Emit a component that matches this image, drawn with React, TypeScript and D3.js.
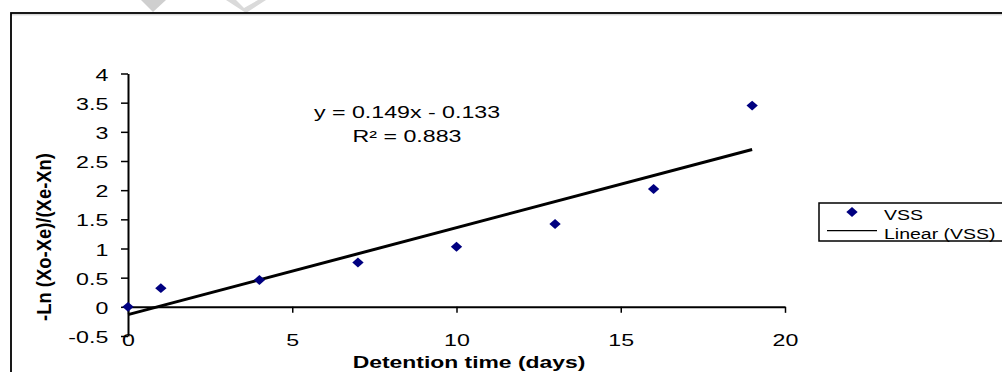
import React, { useEffect, useRef } from 'react';
import * as d3 from 'd3';

// detention time (days) and -Ln(...) values
const days = [0, 1, 4, 7, 10, 13, 16, 19];
const vss = [0, 0.32, 0.46, 0.76, 1.03, 1.42, 2.02, 3.45];

const xTicks = [0, 5, 10, 15, 20];
const yTicks = [-0.5, 0, 0.5, 1, 1.5, 2, 2.5, 3, 3.5, 4];

// trendline as printed on the chart
const slope = 0.149;
const intercept = -0.133;
const eqLines = ['y = 0.149x - 0.133', 'R² = 0.883'];
const legendLabels = ['VSS', 'Linear (VSS)'];

const FONT = '"Liberation Sans", Arial, sans-serif';
const SX = 1.45; // the picture is stretched horizontally

export default function App() {
  const svgRef = useRef<SVGSVGElement>(null);

  useEffect(() => {
    if (!svgRef.current) return;
    const svg = d3.select(svgRef.current);
    svg.selectAll('*').remove();

    const width = 1002;
    const height = 372;

    const x = d3.scaleLinear().domain([0, 20]).range([128, 785]);
    const y = d3.scaleLinear().domain([-0.5, 4]).range([336, 73.5]);

    svg.append('rect').attr('width', width).attr('height', height).attr('fill', '#fff');

    // watermark fragments at the top
    svg
      .append('path')
      .attr('d', 'M141,0 L166,0 L153,12 Z')
      .attr('fill', '#cfcfcf');
    svg
      .append('path')
      .attr('d', 'M226,0 L236,0 L244,8 L258,0 L266,0 L246,13 Z')
      .attr('fill', '#dadada');

    // chart area border (runs off the right and bottom)
    svg
      .append('line')
      .attr('x1', 11)
      .attr('x2', width + 10)
      .attr('y1', 14.8)
      .attr('y2', 14.8)
      .attr('stroke', '#c8c8c8')
      .attr('stroke-width', 1);
    svg
      .append('rect')
      .attr('x', 11)
      .attr('y', 13)
      .attr('width', width + 20)
      .attr('height', height + 20)
      .attr('fill', 'none')
      .attr('stroke', '#000')
      .attr('stroke-width', 1.8);

    // y axis
    const gy = svg
      .append('g')
      .attr('transform', `translate(${x(0)},0)`)
      .call(
        d3
          .axisLeft(y)
          .tickValues(yTicks)
          .tickSize(7)
          .tickSizeOuter(0)
          .tickFormat((d) => String(d))
      );
    gy.select('.domain').attr('stroke', '#000').attr('stroke-width', 2);
    gy.selectAll('.tick line').attr('stroke', '#000').attr('stroke-width', 1.5);
    gy.selectAll('.tick text')
      .attr('x', -19.7 / SX)
      .attr('y', 6.6)
      .attr('dy', 0)
      .attr('transform', `scale(${SX},1)`)
      .attr('fill', '#000')
      .attr('font-size', 16)
      .attr('font-family', FONT);

    // x axis crossing at y = 0, labels low
    const gx = svg
      .append('g')
      .attr('transform', `translate(0,${y(0)})`)
      .call(
        d3
          .axisBottom(x)
          .tickValues(xTicks)
          .tickSize(6)
          .tickSizeOuter(0)
          .tickFormat((d) => String(d))
      );
    gx.select('.domain').attr('stroke', '#000').attr('stroke-width', 2);
    gx.selectAll('.tick line').attr('stroke', '#000').attr('stroke-width', 1.5);
    gx.selectAll('.tick text')
      .attr('y', 38.8)
      .attr('dy', 0)
      .attr('transform', `scale(${SX},1)`)
      .attr('fill', '#000')
      .attr('font-size', 16)
      .attr('font-family', FONT);

    // trendline
    const line = d3
      .line<number>()
      .x((d) => x(d))
      .y((d) => y(slope * d + intercept));
    svg
      .append('path')
      .datum([0, d3.max(days)!])
      .attr('d', line)
      .attr('fill', 'none')
      .attr('stroke', '#000')
      .attr('stroke-width', 3);

    // points
    const diamond = d3.symbol().type(d3.symbolDiamond2).size(62);
    svg
      .selectAll('.pt')
      .data(days)
      .enter()
      .append('path')
      .attr('class', 'pt')
      .attr('d', diamond)
      .attr('transform', (d, i) => `translate(${x(d)},${y(vss[i])}) scale(1.15,1)`)
      .attr('fill', '#000080');

    // equation label
    eqLines.forEach((t, i) => {
      svg
        .append('text')
        .attr('transform', `translate(407,${118 + i * 23.5}) scale(${SX},1)`)
        .attr('text-anchor', 'middle')
        .attr('font-size', 16)
        .attr('font-family', FONT)
        .attr('fill', '#000')
        .text(t);
    });

    // axis titles
    svg
      .append('text')
      .attr('transform', `translate(469,368) scale(1.43,1)`)
      .attr('text-anchor', 'middle')
      .attr('font-size', 16)
      .attr('font-weight', 'bold')
      .attr('font-family', FONT)
      .attr('fill', '#000')
      .text('Detention time (days)');

    svg
      .append('text')
      .attr('transform', `translate(51,237) scale(1.3,1) rotate(-90)`)
      .attr('text-anchor', 'middle')
      .attr('font-size', 16)
      .attr('font-weight', 'bold')
      .attr('font-family', FONT)
      .attr('fill', '#000')
      .attr('textLength', 168)
      .attr('lengthAdjust', 'spacingAndGlyphs')
      .text('-Ln (Xo-Xe)/(Xe-Xn)');

    // legend (box runs off the right edge)
    const lg = svg.append('g');
    lg.append('rect')
      .attr('x', 819)
      .attr('y', 203)
      .attr('width', 220)
      .attr('height', 38)
      .attr('fill', '#fff')
      .attr('stroke', '#000')
      .attr('stroke-width', 1.5);
    lg.append('path')
      .attr('d', diamond)
      .attr('transform', 'translate(852,212) scale(1.15,1)')
      .attr('fill', '#000080');
    lg.append('line')
      .attr('x1', 827)
      .attr('x2', 877)
      .attr('y1', 230.7)
      .attr('y2', 230.7)
      .attr('stroke', '#000')
      .attr('stroke-width', 1.2);
    legendLabels.forEach((t, i) => {
      lg.append('text')
        .attr('transform', `translate(884,${220 + i * 18.7}) scale(1.3,1)`)
        .attr('font-size', 15)
        .attr('font-family', FONT)
        .attr('fill', '#000')
        .text(t);
    });
  }, []);

  return (
    <svg
      ref={svgRef}
      width={1002}
      height={372}
      style={{ position: 'absolute', left: 0, top: 0, display: 'block' }}
    ></svg>
  );
}
